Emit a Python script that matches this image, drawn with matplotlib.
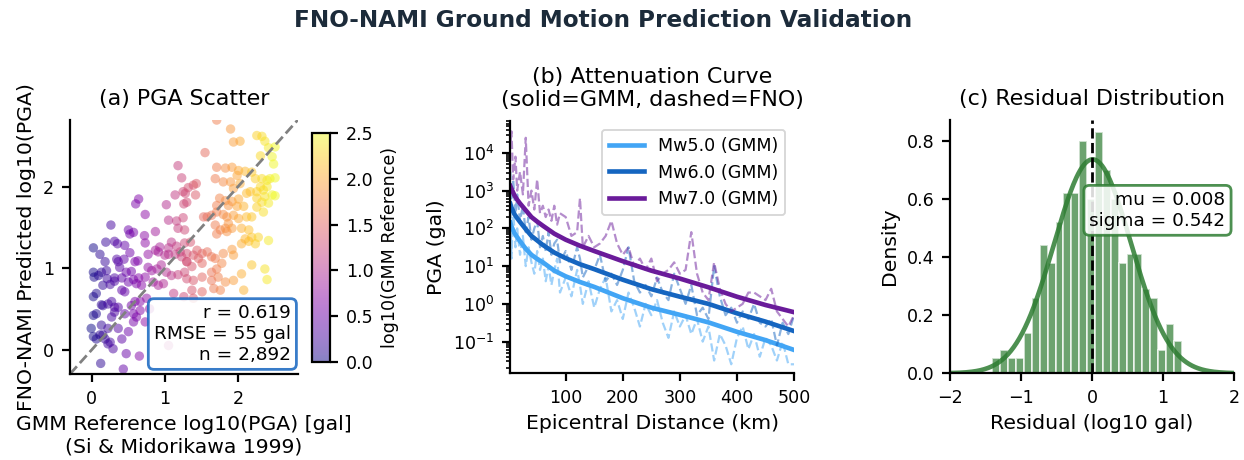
import numpy as np
import matplotlib
matplotlib.use('Agg')
import matplotlib.pyplot as plt

# ---- panel (a): GMM reference vs FNO prediction, log10(PGA) ----
pts_a = [
    (1.18, 2.26), (1.23, 2.11), (1.14, 1.90), (1.25, 1.94), (1.02, 1.78), (0.64, 1.85), (0.60, 1.79),
    (0.73, 1.66), (1.05, 1.59), (1.16, 1.58), (1.25, 1.62), (0.26, 1.53), (0.50, 1.47), (0.52, 1.42),
    (0.57, 1.44), (0.72, 1.40), (0.87, 1.45), (1.18, 1.49), (1.27, 1.47), (0.19, 1.32), (0.31, 1.33),
    (0.35, 1.30), (0.45, 1.28), (0.73, 1.31), (0.93, 1.26), (1.05, 1.25), (1.09, 1.32), (1.16, 1.27),
    (1.27, 1.31), (0.02, 1.25), (0.11, 1.17), (0.18, 1.08), (0.34, 1.11), (0.36, 1.08), (0.44, 1.11),
    (0.52, 1.19), (0.59, 1.08), (0.63, 1.09), (0.77, 1.17), (0.87, 1.22), (0.91, 1.20), (1.00, 1.16),
    (1.05, 1.17), (1.14, 1.17), (1.23, 1.14), (1.30, 1.18), (0.02, 0.95), (0.03, 0.89), (0.13, 0.95),
    (0.20, 0.97), (0.09, 0.91), (0.21, 0.87), (0.31, 0.88), (0.38, 1.01), (0.41, 0.88), (0.47, 0.95),
    (0.54, 0.96), (0.57, 0.86), (0.64, 0.88), (0.73, 0.89), (0.77, 1.01), (0.82, 0.97), (0.89, 0.99),
    (0.95, 1.04), (1.02, 0.95), (1.09, 0.91), (1.18, 0.92), (1.27, 0.95), (1.30, 1.08), (0.15, 0.79),
    (0.25, 0.80), (0.31, 0.84), (0.50, 0.83), (0.61, 0.81), (0.68, 0.79), (0.84, 0.83), (0.91, 0.79),
    (0.98, 0.81), (0.02, 0.65), (0.06, 0.69), (0.13, 0.55), (0.15, 0.54), (0.22, 0.56), (0.27, 0.59),
    (0.31, 0.52), (0.36, 0.52), (0.41, 0.73), (0.45, 0.71), (0.54, 0.54), (0.59, 0.59), (0.66, 0.59),
    (0.75, 0.63), (0.79, 0.50), (0.02, 0.42), (0.06, 0.44), (0.27, 0.40), (0.31, 0.46), (0.45, 0.44),
    (0.57, 0.44), (0.61, 0.40), (-0.01, 0.26), (0.13, 0.30), (0.22, 0.26), (0.36, 0.26), (0.50, 0.22),
    (0.57, 0.34), (0.73, 0.34), (0.02, 0.16), (0.11, 0.18), (0.15, 0.18), (0.06, 0.13), (0.22, 0.07),
    (0.25, 0.09), (0.18, 0.13), (0.41, 0.13), (0.29, 0.01), (0.47, -0.05), (0.65, -0.08), (0.43, -0.24),
    (0.12, -0.17), (1.05, 0.05), (0.66, 0.48), (1.12, 0.69),
    (1.71, 2.82), (1.90, 2.71), (2.03, 2.56), (1.94, 2.55), (1.55, 2.42), (2.33, 2.62), (2.26, 2.63),
    (2.37, 2.56), (2.42, 2.48), (2.51, 2.49), (2.31, 2.38), (2.47, 2.37), (2.49, 2.28), (1.71, 2.24),
    (1.83, 2.23), (1.92, 2.24), (2.01, 2.20), (1.99, 2.14), (2.10, 2.19), (2.19, 2.18), (2.24, 2.10),
    (2.33, 2.10), (2.40, 2.08), (2.44, 2.10), (2.51, 2.11), (2.40, 2.00), (2.31, 2.00), (2.35, 1.96),
    (2.26, 1.94), (2.17, 1.94), (2.12, 1.92), (2.47, 1.90), (2.51, 1.89), (2.37, 1.88), (2.26, 1.86),
    (2.33, 1.81), (2.42, 1.80), (1.39, 2.02), (1.32, 1.99), (1.43, 2.04), (1.69, 2.10), (1.80, 2.06),
    (1.90, 2.06), (2.03, 2.04), (1.94, 1.98), (1.75, 1.86), (1.83, 1.83), (1.92, 1.82), (2.01, 1.85),
    (1.87, 1.77), (1.99, 1.76), (2.08, 1.76), (1.71, 1.77), (2.26, 1.75), (2.35, 1.69), (1.30, 1.81),
    (1.42, 1.90), (1.28, 1.92), (1.26, 1.79), (1.53, 1.63), (1.58, 1.63), (1.64, 1.65), (1.71, 1.69),
    (1.80, 1.66), (1.85, 1.63), (1.94, 1.65), (2.01, 1.61), (2.12, 1.63), (2.19, 1.63), (1.87, 1.55),
    (1.69, 1.53), (1.76, 1.47), (1.83, 1.49), (1.92, 1.49), (1.71, 1.42), (1.85, 1.45), (2.05, 1.49),
    (2.15, 1.47), (2.10, 1.36), (2.19, 1.38), (2.15, 1.33), (2.05, 1.30), (2.24, 1.30), (2.28, 1.38),
    (2.42, 1.34), (1.21, 1.20), (1.35, 1.32), (1.44, 1.22), (1.51, 1.18), (1.58, 1.20), (1.64, 1.14),
    (1.80, 1.18), (1.92, 1.23), (1.94, 1.16), (1.39, 1.16), (1.30, 1.08), (1.37, 1.02), (1.46, 1.12),
    (1.51, 1.06), (1.69, 1.12), (1.71, 0.99), (1.78, 1.06), (2.19, 1.04), (2.37, 0.99), (2.05, 0.93),
    (2.40, 0.86), (1.30, 0.87), (1.39, 0.85), (1.51, 0.89), (1.64, 0.95), (1.73, 0.89), (1.64, 0.85),
    (1.37, 0.73), (1.51, 0.71), (1.67, 0.75), (1.76, 0.73), (1.83, 0.83), (1.94, 0.85), (2.08, 0.73),
    (1.26, 0.65), (1.39, 0.63),
]
gmm_ref, fno_pred = np.array(pts_a).T

# ---- panel (b): attenuation curves, log10(PGA [gal]) ----
dist_gmm = [3, 5, 10, 15, 20, 30, 40, 50, 60, 80, 100, 125, 150, 200, 250, 300, 350, 400, 450, 500]
gmm_m5 = [2.15, 2.05, 1.88, 1.77, 1.66, 1.46, 1.30, 1.19, 1.10, 0.88, 0.73, 0.58, 0.45, 0.15, -0.10,
          -0.29, -0.49, -0.74, -0.96, -1.22]
gmm_m6 = [2.65, 2.55, 2.38, 2.27, 2.17, 1.98, 1.80, 1.68, 1.56, 1.36, 1.21, 1.05, 0.92, 0.64, 0.39,
          0.19, 0.00, -0.25, -0.47, -0.72]
gmm_m7 = [3.12, 3.05, 2.88, 2.76, 2.66, 2.48, 2.30, 2.18, 2.07, 1.86, 1.70, 1.54, 1.40, 1.13, 0.88,
          0.67, 0.44, 0.19, -0.03, -0.22]

dist_fno = [3, 5, 8, 12, 15, 20, 25, 30, 35, 40, 45, 50, 55, 60, 65, 70, 75, 80, 85, 90,
            100, 110, 120, 125, 130, 140, 150, 160, 170, 180, 190, 200, 210, 220, 230, 240, 250,
            260, 270, 280, 290, 300, 310, 320, 330, 340, 350, 360, 370, 380, 390, 400, 410, 420,
            430, 440, 450, 460, 470, 480, 490, 500]
fno_m5 = [2.8, 1.2, 2.5, 1.5, 2.0, 1.3, 1.8, 1.0, 1.5, 1.1, 0.8, 1.4, 0.9, 1.2, 0.6, 1.0, 0.5, 0.9, 1.2, 0.3,
          0.7, 0.2, 0.9, 0.5, 0.0, 0.6, -0.1, 0.4, 0.7, -0.2, 0.1, -0.4, 0.3, -0.1, -0.6, 0.0, -0.3,
          0.1, -0.5, -0.9, -0.2, -0.6, -0.3, -0.8, -0.4, -1.0, -0.6, -1.5, -0.8, -1.1, -1.6, -0.9, -0.6, -1.2,
          -0.8, -1.4, -0.9, -1.1, -1.5, -1.0, -1.6, -1.6]
fno_m6 = [3.5, 2.8, 3.3, 2.4, 2.9, 2.2, 2.6, 1.9, 2.3, 1.7, 2.0, 2.2, 1.5, 1.8, 1.4, 1.9, 1.3, 1.6, 1.7, 1.1,
          1.4, 0.9, 1.5, 1.2, 0.7, 1.0, 0.9, 1.3, 0.6, 0.8, 0.5, 0.9, 1.5, 0.6, 0.3, 0.5, 0.2,
          0.7, 0.3, 0.1, 0.8, 0.4, 0.0, 0.5, -0.3, -0.1, -0.4, 1.0, 0.2, -0.3, -0.1, -0.5, -0.2, -0.4,
          0.0, -0.5, -0.6, -0.4, -1.1, -0.5, -0.8, -0.3]
fno_m7 = [4.2, 4.57, 3.3, 3.9, 3.0, 3.5, 2.9, 4.4, 2.6, 3.0, 2.5, 3.3, 2.4, 2.6, 2.3, 2.5, 2.2, 2.6, 2.1, 2.4,
          2.3, 1.8, 1.9, 2.8, 1.5, 1.8, 1.5, 1.6, 1.8, 2.2, 1.6, 1.3, 1.5, 1.0, 1.2, 0.9, 1.2,
          0.6, 0.8, 0.9, 1.1, 0.8, 0.9, 1.9, 0.8, 0.3, 0.1, 1.1, 0.4, 0.0, -0.2, -0.1, 0.0, 0.3,
          0.3, 0.2, 0.1, 0.4, -0.2, -0.4, -0.6, -0.3]

mags = ['Mw5.0', 'Mw6.0', 'Mw7.0']
mag_colors = ['#42A5F5', '#1565C0', '#6A1B9A']

# ---- panel (c): residual histogram (density) ----
res_centers = [-1.348, -1.237, -1.126, -1.015, -0.904, -0.793, -0.681, -0.570, -0.459, -0.348, -0.237,
               -0.126, -0.015, 0.096, 0.207, 0.318, 0.430, 0.541, 0.652, 0.763, 0.874, 0.985, 1.096, 1.207]
res_density = [0.052, 0.080, 0.052, 0.052, 0.14, 0.26, 0.44, 0.38, 0.52, 0.62, 0.62, 0.80, 0.60,
               0.83, 0.70, 0.60, 0.38, 0.41, 0.41, 0.29, 0.26, 0.08, 0.17, 0.11]
res_width = 0.111
res_mu, res_sigma = 0.008, 0.542

plt.rcParams.update({
    'font.family': 'DejaVu Sans',
    'font.size': 9.5,
    'xtick.labelsize': 9.5, 'ytick.labelsize': 9.5,
    'axes.linewidth': 1.2,
    'xtick.major.size': 4.5, 'ytick.major.size': 4.5,
    'xtick.major.width': 1.2, 'ytick.major.width': 1.2,
    'xtick.minor.width': 0.9, 'ytick.minor.width': 0.9,
    'xtick.major.pad': 4, 'ytick.major.pad': 4,
})

DPI = 133
fig = plt.figure(figsize=(1244 / DPI, 460 / DPI), dpi=DPI)
fig.text(0.485, 0.955, 'FNO-NAMI Ground Motion Prediction Validation', ha='center', va='center',
         fontsize=12.5, fontweight='bold', color='#1C2B3A')

# (a)
ax1 = fig.add_axes([0.0563, 0.187, 0.183, 0.552])
sc = ax1.scatter(gmm_ref, fno_pred, c=gmm_ref, cmap='plasma', vmin=0, vmax=2.5, s=26,
                 alpha=0.5, edgecolors='none')
lim = (-0.3, 2.82)
ax1.plot(lim, lim, '--', color='gray', lw=1.5)
ax1.set_xlim(lim)
ax1.set_ylim(lim)
ax1.set_xticks([0, 1, 2])
ax1.set_yticks([0, 1, 2])
ax1.set_xlabel('GMM Reference log10(PGA) [gal]\n(Si & Midorikawa 1999)', fontsize=11)
ax1.set_ylabel('FNO-NAMI Predicted log10(PGA)', fontsize=11)
ax1.set_title('(a) PGA Scatter', fontsize=12, pad=8)
ax1.text(0.97, 0.04, 'r = 0.619\nRMSE = 55 gal\nn = 2,892', transform=ax1.transAxes,
         ha='right', va='bottom', fontsize=10,
         bbox=dict(boxstyle='round,pad=0.3', facecolor='white', edgecolor='#1565C0', lw=1.5, alpha=0.85))
cax = fig.add_axes([0.2506, 0.2137, 0.0147, 0.4965])
cb = fig.colorbar(sc, cax=cax)
cb.set_label('log10(GMM Reference)', fontsize=9.5)
cb.outline.set_linewidth(1.2)

# (b)
ax2 = fig.add_axes([0.41, 0.1885, 0.2283, 0.5485])
for m, col, g, f in zip(mags, mag_colors, [gmm_m5, gmm_m6, gmm_m7], [fno_m5, fno_m6, fno_m7]):
    ax2.plot(dist_gmm, 10 ** np.array(g), '-', color=col, lw=2.5, label=f'{m} (GMM)')
    ax2.plot(dist_fno, 10 ** np.array(f), '--', color=col, lw=1.2, alpha=0.5)
ax2.set_yscale('log')
ax2.set_xlim(2.5, 500)
ax2.set_ylim(0.0145, 7e4)
ax2.set_xlabel('Epicentral Distance (km)', fontsize=11)
ax2.set_ylabel('PGA (gal)', fontsize=11)
ax2.set_title('(b) Attenuation Curve\n(solid=GMM, dashed=FNO)', fontsize=12, pad=8)
ax2.legend(loc='upper right', fontsize=9.5)

# (c)
ax3 = fig.add_axes([0.7637, 0.1885, 0.2283, 0.5506])
ax3.bar(res_centers, res_density, width=res_width, color='#2E7D32', alpha=0.7,
        edgecolor='white', linewidth=1.0)
xs = np.linspace(-2, 2, 300)
ax3.plot(xs, np.exp(-0.5 * ((xs - res_mu) / res_sigma) ** 2) / (res_sigma * np.sqrt(2 * np.pi)),
         color='#2E7D32', lw=2.5, alpha=0.85)
ax3.axvline(0, color='black', ls='--', lw=1.5)
ax3.set_xlim(-2, 2)
ax3.set_xticks([-2, -1, 0, 1, 2])
ax3.set_xlabel('Residual (log10 gal)', fontsize=11)
ax3.set_ylabel('Density', fontsize=11)
ax3.set_title('(c) Residual Distribution', fontsize=12, pad=8)
ax3.text(0.97, 0.72, f'mu = {res_mu:.3f}\nsigma = {res_sigma:.3f}', transform=ax3.transAxes,
         ha='right', va='top', fontsize=10,
         bbox=dict(boxstyle='round,pad=0.3', facecolor='white', edgecolor='#2E7D32', lw=1.5, alpha=0.85))

for ax in (ax1, ax2, ax3):
    ax.spines['top'].set_visible(False)
    ax.spines['right'].set_visible(False)

fig.savefig('out.png', dpi=DPI)
